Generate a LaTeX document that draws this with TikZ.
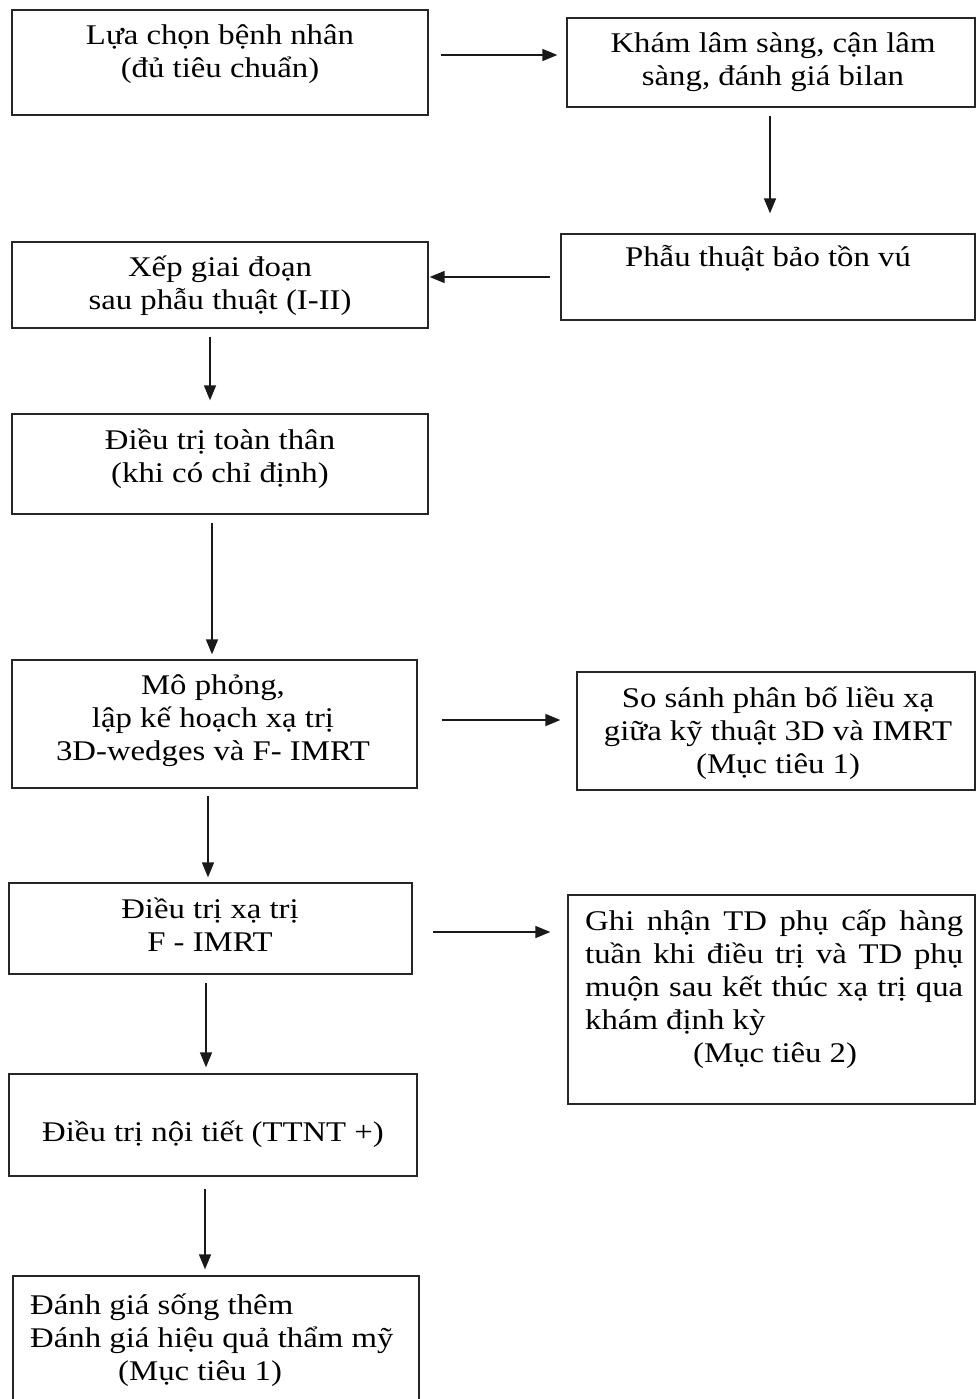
\documentclass[tikz,border=0pt]{standalone}
\usepackage{fontspec}
\setmainfont{Liberation Serif}[FakeStretch=1.15]
\usetikzlibrary{arrows.meta,calc}
\newcommand{\fst}{\rule{0pt}{30pt}}
\tikzset{
  box/.style={draw=black!85, line width=1.3pt, rectangle, inner sep=0pt},
  txt/.style={anchor=north, align=center, inner sep=0pt, font=\fontsize{28.5}{33}\selectfont},
  arr/.style={-{Triangle[length=15pt,width=12pt]}, line width=1.6pt, draw=black!90}
}
\begin{document}
\begin{tikzpicture}[x=1pt,y=-1pt]
\useasboundingbox (0,0) rectangle (976,1399);
% boxes
\node[box, minimum width=416pt, minimum height=105pt] (A) at (220,62.5) {};
\node[box, minimum width=408pt, minimum height=89pt] (B) at (771,62.5) {};
\node[box, minimum width=414pt, minimum height=86pt] (C) at (768,277) {};
\node[box, minimum width=416pt, minimum height=86pt] (D) at (220,285) {};
\node[box, minimum width=416pt, minimum height=100pt] (E) at (220,464) {};
\node[box, minimum width=405pt, minimum height=128pt] (F) at (214.5,724) {};
\node[box, minimum width=398pt, minimum height=118pt] (G) at (776,731) {};
\node[box, minimum width=403pt, minimum height=91pt] (H) at (210.5,928.5) {};
\node[box, minimum width=407pt, minimum height=209pt] (I) at (771.5,999.5) {};
\node[box, minimum width=408pt, minimum height=102pt] (J) at (213,1125) {};
\node[box, minimum width=406pt, minimum height=128pt] (K) at (216,1340) {};
% texts
\node[txt] (At) at (220,14) {\fst Lựa chọn bệnh nhân\\(đủ tiêu chuẩn)};
\node[txt] (Bt) at (773,22) {\fst Khám lâm sàng, cận lâm\\sàng, đánh giá bilan};
\node[txt] (Ct) at (768,236) {\fst Phẫu thuật bảo tồn vú};
\node[txt] (Dt) at (220,246) {\fst Xếp giai đoạn\\sau phẫu thuật (I-II)};
\node[txt] (Et) at (220,419) {\fst Điều trị toàn thân\\(khi có chỉ định)};
\node[txt] (Ft) at (213,664) {\fst Mô phỏng,\\lập kế hoạch xạ trị\\3D-wedges và F- IMRT};
\node[txt] (Gt) at (778,677) {\fst So sánh phân bố liều xạ\\giữa kỹ thuật 3D và IMRT\\(Mục tiêu 1)};
\node[txt] (Ht) at (210,888) {\fst Điều trị xạ trị\\F - IMRT};
\node[txt, anchor=north west, align=left] (It) at (585,900) {\parbox[t]{378pt}{\fontsize{28.5}{33}\selectfont\tolerance=10000\fst Ghi nhận TD phụ cấp hàng\linebreak tuần khi điều trị và TD phụ\linebreak muộn sau kết thúc xạ trị qua\linebreak khám định kỳ\par\hspace*{108pt}(Mục tiêu 2)}};
\node[txt] (Jt) at (213,1111) {\fst Điều trị nội tiết (TTNT +)};
\node[txt, anchor=north west, align=left] (Kt) at (30,1284) {\fst Đánh giá sống thêm\\Đánh giá hiệu quả thẩm mỹ\\\hspace*{88pt}(Mục tiêu 1)};
% connectors
\draw[arr] ($(A.east)+(12,-7.5)$) -- ($(A.east -| B.west)+(-9,-7.5)$);
\draw[arr] ($(B.south)+(-1,8)$) -- ($(B.south |- C.north)+(-1,-20)$);
\draw[arr] ($(C.west)+(-10,0)$) -- ($(C.west -| D.east)+(1,0)$);
\draw[arr] ($(D.south)+(-10,8)$) -- ($(D.south |- E.north)+(-10,-13)$);
\draw[arr] ($(E.south)+(-8,8)$) -- ($(E.south |- F.north)+(-8,-5)$);
\draw[arr] ($(F.east)+(24,-4)$) -- ($(F.east -| G.west)+(-16,-4)$);
\draw[arr] ($(F.south)+(-6.5,7)$) -- ($(F.south |- H.north)+(-6.5,-5)$);
\draw[arr] ($(H.east)+(20,3.5)$) -- ($(H.east -| I.west)+(-17,3.5)$);
\draw[arr] ($(H.south)+(-4.5,8)$) -- ($(H.south |- J.north)+(-4.5,-6)$);
\draw[arr] ($(J.south)+(-8,12)$) -- ($(J.south |- K.north)+(-8,-6)$);
\end{tikzpicture}
\end{document}
